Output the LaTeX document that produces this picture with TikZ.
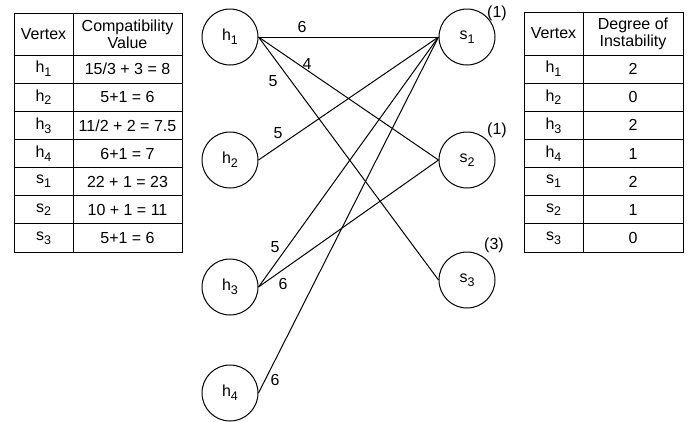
\documentclass[tikz,border=0pt]{standalone}
\usepackage{fontspec}
\setmainfont{Liberation Sans}
\newcommand\fs{\fontsize{16}{17}\selectfont}
\newcommand\sub[1]{\raisebox{-0.45ex}{\fontsize{12.5}{12.5}\selectfont #1}}
\begin{document}
\begin{tikzpicture}[x=1pt,y=-1pt,
  vtx/.style={circle,draw,line width=1pt,minimum size=56pt,inner sep=0pt,font=\fs},
  edge/.style={line width=1pt},
  grid/.style={line width=1pt},
  lbl/.style={font=\fs,inner sep=0pt},
  cell/.style={font=\fs,inner sep=0pt,align=center}]
\useasboundingbox (0,0) rectangle (697,421);

% ---------- graph ----------
\node[vtx] (h1) at (230,37)  {h\sub{1}};
\node[vtx] (h2) at (230,160) {h\sub{2}};
\node[vtx] (h3) at (230,287) {h\sub{3}};
\node[vtx] (h4) at (230,393) {h\sub{4}};
\node[vtx] (s1) at (467,37)  {s\sub{1}};
\node[vtx] (s2) at (467,160) {s\sub{2}};
\node[vtx] (s3) at (467,280) {s\sub{3}};

\draw[edge] (h1.east) -- (s1.west);
\draw[edge] (h1.east) -- (s2.west);
\draw[edge] (h1.east) -- (s3.west);
\draw[edge] (h2.east) -- (s1.west);
\draw[edge] (h3.east) -- (s1.west);
\draw[edge] (h3.east) -- (s2.west);
\draw[edge] (h4.east) -- (s1.west);

\node[lbl] (w11) at (302,27)  {6};
\node[lbl] (w12) at (307,64)  {4};
\node[lbl] (w13) at (273,81)  {5};
\node[lbl] (w21) at (278,133) {5};
\node[lbl] (w31) at (275,247) {5};
\node[lbl] (w32) at (283,284) {6};
\node[lbl] (w41) at (275,380) {6};

\node[lbl] (q1) at (497,13)  {(1)};
\node[lbl] (q2) at (497,130) {(1)};
\node[lbl] (q3) at (494,245) {(3)};

% ---------- left table ----------
\draw[grid] (14,13) rectangle (182,252);
\draw[grid] (73,13) -- (73,252);
\foreach \k in {0,...,6}{
  \draw[grid] (14,{55+28.143*\k}) -- (182,{55+28.143*\k});
}
\node[cell] (lh1) at (43.5,34) {Vertex};
\node[cell] (lh2) at (127.5,34) {Compatibility\\Value};
\node[cell] (la1) at (43.5,69.1)  {h\sub{1}};
\node[cell] (la2) at (43.5,97.2)  {h\sub{2}};
\node[cell] (la3) at (43.5,125.4) {h\sub{3}};
\node[cell] (la4) at (43.5,153.5) {h\sub{4}};
\node[cell] (la5) at (43.5,181.6) {s\sub{1}};
\node[cell] (la6) at (43.5,209.8) {s\sub{2}};
\node[cell] (la7) at (43.5,237.9) {s\sub{3}};
\node[cell] (lb1) at (127.5,69.1)  {15/3 + 3 = 8};
\node[cell] (lb2) at (127.5,97.2)  {5+1 = 6};
\node[cell] (lb3) at (127.5,125.4) {11/2 + 2 = 7.5};
\node[cell] (lb4) at (127.5,153.5) {6+1 = 7};
\node[cell] (lb5) at (127.5,181.6) {22 + 1 = 23};
\node[cell] (lb6) at (127.5,209.8) {10 + 1 = 11};
\node[cell] (lb7) at (127.5,237.9) {5+1 = 6};

% ---------- right table ----------
\draw[grid] (524,12) rectangle (683,252);
\draw[grid] (583,12) -- (583,252);
\foreach \k in {0,...,6}{
  \draw[grid] (524,{55+28.143*\k}) -- (683,{55+28.143*\k});
}
\node[cell] (rh1) at (553.5,33.5) {Vertex};
\node[cell] (rh2) at (633,33.5) {Degree of\\Instability};
\node[cell] (ra1) at (553.5,69.1)  {h\sub{1}};
\node[cell] (ra2) at (553.5,97.2)  {h\sub{2}};
\node[cell] (ra3) at (553.5,125.4) {h\sub{3}};
\node[cell] (ra4) at (553.5,153.5) {h\sub{4}};
\node[cell] (ra5) at (553.5,181.6) {s\sub{1}};
\node[cell] (ra6) at (553.5,209.8) {s\sub{2}};
\node[cell] (ra7) at (553.5,237.9) {s\sub{3}};
\node[cell] (rb1) at (633,69.1)  {2};
\node[cell] (rb2) at (633,97.2)  {0};
\node[cell] (rb3) at (633,125.4) {2};
\node[cell] (rb4) at (633,153.5) {1};
\node[cell] (rb5) at (633,181.6) {2};
\node[cell] (rb6) at (633,209.8) {1};
\node[cell] (rb7) at (633,237.9) {0};
\end{tikzpicture}
\end{document}
